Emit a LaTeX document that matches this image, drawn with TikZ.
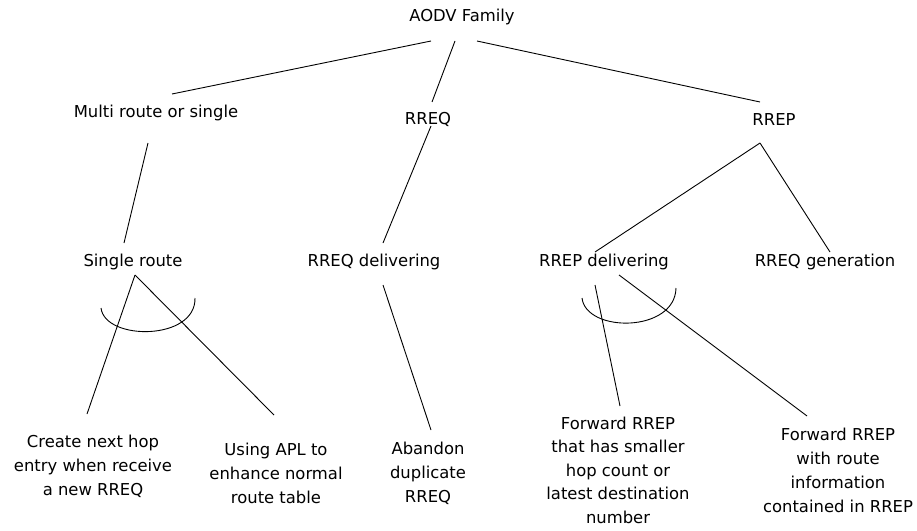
\documentclass[tikz,border=0pt]{standalone}
\usepackage{fontspec}
\setmainfont{DejaVu Sans}
\usepackage{tikz}

\begin{document}
\begin{tikzpicture}[x=1pt, y=-1pt, line width=0.9pt,
                    every node/.style={inner sep=0pt, align=center, font=\fontsize{16.4}{24}\selectfont}]
                    \useasboundingbox (0,0) rectangle (917,530);

                    \node (aodv) at (462,17) {AODV Family};
                    \node (multi) at (156,113) {Multi route or single};
                    \node (rreq) at (428,119) {RREQ};
                    \node (rrep) at (774,120) {RREP};
                    \node (single) at (133,262) {Single route};
                    \node (rreqdel) at (374,262) {RREQ delivering};
                    \node (rrepdel) at (604,262) {RREP delivering};
                    \node (rreqgen) at (825,262) {RREQ generation};
                    \node (create) at (93,466) {Create next hop\\entry when receive\\a new RREQ};
                    \node (usingapl) at (276,473) {Using APL to\\enhance normal\\route table};
                    \node (abandon) at (428,473) {Abandon\\duplicate\\RREQ};
                    \node[font=\fontsize{16.4}{23.5}\selectfont] (fwdsmall) at (618,470) {Forward RREP\\that has smaller\\hop count or\\latest destination\\number};
                    \node (fwdroute) at (838,470) {Forward RREP\\with route\\information\\contained in RREP};

                    \draw ([shift={(-31,24)}]aodv.center) -- ([shift={(16,-19)}]multi.center);
                    \draw ([shift={(-7,24)}]aodv.center) -- ([shift={(4,-17)}]rreq.center);
                    \draw ([shift={(15,24)}]aodv.center) -- ([shift={(-14,-18)}]rrep.center);
                    \draw ([shift={(-8,30)}]multi.center) -- ([shift={(-9,-19)}]single.center);
                    \draw ([shift={(3,7)}]rreq.center) -- ([shift={(9,-19)}]rreqdel.center);
                    \draw ([shift={(-14,23)}]rrep.center) -- ([shift={(-9,-10)}]rrepdel.center);
                    \draw ([shift={(-14,23)}]rrep.center) -- ([shift={(5,-10)}]rreqgen.center);
                    \draw ([shift={(2,13)}]single.center) -- ([shift={(-6,-52)}]create.center);
                    \draw ([shift={(2,13)}]single.center) -- ([shift={(-2,-58)}]usingapl.center);
                    \draw ([shift={(9,23)}]rreqdel.center) -- ([shift={(3,-43)}]abandon.center);
                    \draw ([shift={(-9,23)}]rrepdel.center) -- ([shift={(2,-64)}]fwdsmall.center);
                    \draw ([shift={(15,13)}]rrepdel.center) -- ([shift={(-31,-54)}]fwdroute.center);

                    % "and" arcs
                    \draw ([shift={(-32,46)}]single.center) .. controls +(4,33) and +(1,43) .. ([shift={(62,36)}]single.center);
                    \draw ([shift={(-22,36)}]rrepdel.center) .. controls +(4,35) and +(-1,45) .. ([shift={(72,26)}]rrepdel.center);
                \end{tikzpicture}
\end{document}
